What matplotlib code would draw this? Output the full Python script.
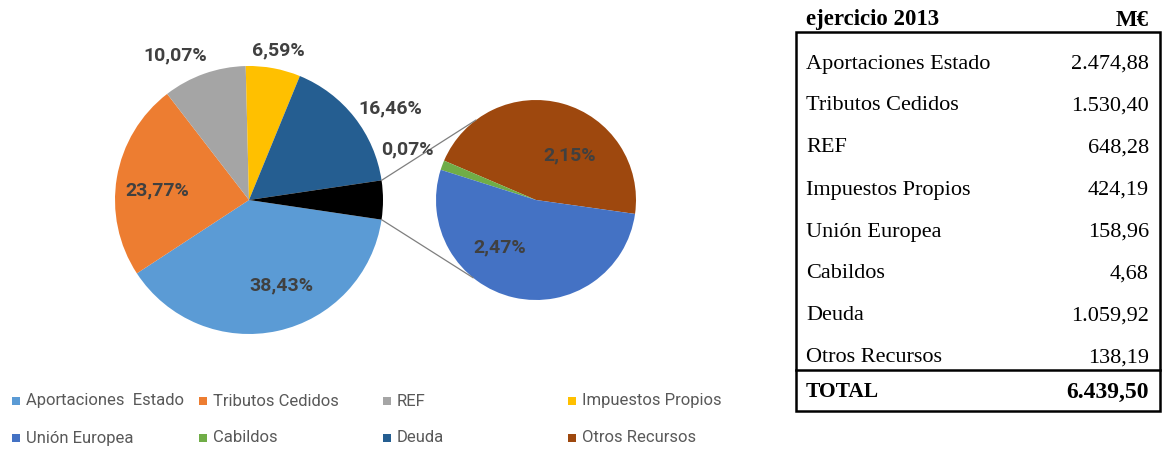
import matplotlib
matplotlib.use("Agg")
import matplotlib.pyplot as plt
from matplotlib.patches import Rectangle
import numpy as np

# ---------------- data ----------------
categories = ["Aportaciones Estado", "Tributos Cedidos", "REF", "Impuestos Propios",
              "Unión Europea", "Cabildos", "Deuda", "Otros Recursos"]
values = [2474.88, 1530.40, 648.28, 424.19, 158.96, 4.68, 1059.92, 138.19]
colors = {"Aportaciones Estado": "#5B9BD5", "Tributos Cedidos": "#ED7D31", "REF": "#A5A5A5",
          "Impuestos Propios": "#FFC000", "Unión Europea": "#4472C4", "Cabildos": "#70AD47",
          "Deuda": "#255E91", "Otros Recursos": "#9E480E"}
main_order = ["Aportaciones Estado", "Tributos Cedidos", "REF", "Impuestos Propios", "Deuda"]
second_order = ["Otros Recursos", "Cabildos", "Unión Europea"]
legend_labels = ["Aportaciones  Estado", "Tributos Cedidos", "REF", "Impuestos Propios",
                 "Unión Europea", "Cabildos", "Deuda", "Otros Recursos"]
table_title = "ejercicio 2013"
table_unit = "M€"

vals = dict(zip(categories, values))
total = sum(values)

def es_num(v, dec=2):
    s = f"{v:,.{dec}f}"
    return s.replace(",", "X").replace(".", ",").replace("X", ".")

def pct(v):
    return es_num(100 * v / total) + "%"

# ---------------- figure ----------------
W, H = 1163, 449
fig = plt.figure(figsize=(W / 100, H / 100), dpi=100)
ax = fig.add_axes([0, 0, 1, 1])

def Y(y):
    return H - y

lab_font = ["Roboto", "DejaVu Sans"]
lab_color = "#404040"

# main pie
main_vals = [vals[c] for c in main_order]
other_val = sum(vals[c] for c in second_order)
main_all = main_vals + [other_val]
main_cols = [colors[c] for c in main_order] + ["black"]
other_deg = other_val / total * 360
mc = (249, Y(200))
mr = 134
ax.pie(main_all, colors=main_cols, startangle=-other_deg / 2, counterclock=False,
       center=mc, radius=mr, wedgeprops=dict(linewidth=0))

# secondary pie
sec_vals = [vals[c] for c in second_order]
sc = (536, Y(200))
sr = 100
ax.pie(sec_vals, colors=[colors[c] for c in second_order], startangle=-8,
       counterclock=True, center=sc, radius=sr, wedgeprops=dict(linewidth=0))

# connector lines
a = np.deg2rad(other_deg / 2)
p1 = (mc[0] + mr * np.cos(a), mc[1] + mr * np.sin(a))
p2 = (mc[0] + mr * np.cos(-a), mc[1] + mr * np.sin(-a))
b1, b2 = np.deg2rad(127), np.deg2rad(231)
q1 = (sc[0] + sr * np.cos(b1), sc[1] + sr * np.sin(b1))
q2 = (sc[0] + sr * np.cos(b2), sc[1] + sr * np.sin(b2))
ax.plot([p1[0], q1[0]], [p1[1], q1[1]], color="#7f7f7f", lw=0.9)
ax.plot([p2[0], q2[0]], [p2[1], q2[1]], color="#7f7f7f", lw=0.9)

# percentage labels (layout positions in pixel coords)
label_pos = {"Aportaciones Estado": (281, 285), "Tributos Cedidos": (157, 190),
             "REF": (175, 55), "Impuestos Propios": (278, 50), "Deuda": (390, 108),
             "Cabildos": (407, 149), "Otros Recursos": (570, 155), "Unión Europea": (500, 247)}
for c in categories:
    x, y = label_pos[c]
    ax.text(x, Y(y), pct(vals[c]), ha="center", va="center", fontsize=14,
            fontweight="bold", color=lab_color, family=lab_font)

# legend
leg_x = [12, 199, 383, 568]
leg_y = [401, 438]
for i, lab in enumerate(legend_labels):
    r, col = divmod(i, 4)
    x, y = leg_x[col], leg_y[r]
    ax.add_patch(Rectangle((x, Y(y) - 4), 8, 8, facecolor=colors[categories[i]], edgecolor="none"))
    ax.text(x + 14, Y(y), lab, ha="left", va="center", fontsize=12, color="#595959",
            family=lab_font)

# table
serif = ["Liberation Serif", "DejaVu Serif"]
tx0, tx1 = 796, 1160
ty0, ty1, tyl = 32, 411, 370
ax.add_patch(Rectangle((tx0, Y(ty1)), tx1 - tx0, ty1 - ty0, facecolor="none",
                       edgecolor="black", lw=1.8))
ax.plot([tx0, tx1], [Y(tyl), Y(tyl)], color="black", lw=1.8)
ax.text(806, Y(20), table_title, ha="left", va="center", fontsize=16.5, fontweight="bold",
        family=serif)
ax.text(1149, Y(20), table_unit, ha="right", va="center", fontsize=16.5, fontweight="bold",
        family=serif)
for i, c in enumerate(categories):
    y = 64 + i * 42
    ax.text(806, Y(y), c, ha="left", va="center", fontsize=16, family=serif)
    ax.text(1149, Y(y), es_num(vals[c]), ha="right", va="center", fontsize=16, family=serif)
ax.text(806, Y(392), "TOTAL", ha="left", va="center", fontsize=15.5, fontweight="bold",
        family=serif)
ax.text(1149, Y(392), es_num(total), ha="right", va="center", fontsize=17,
        fontweight="bold", family=serif)

ax.set_xlim(0, W)
ax.set_ylim(0, H)
ax.set_aspect("auto")
ax.axis("off")
fig.savefig("out.png", dpi=100)
